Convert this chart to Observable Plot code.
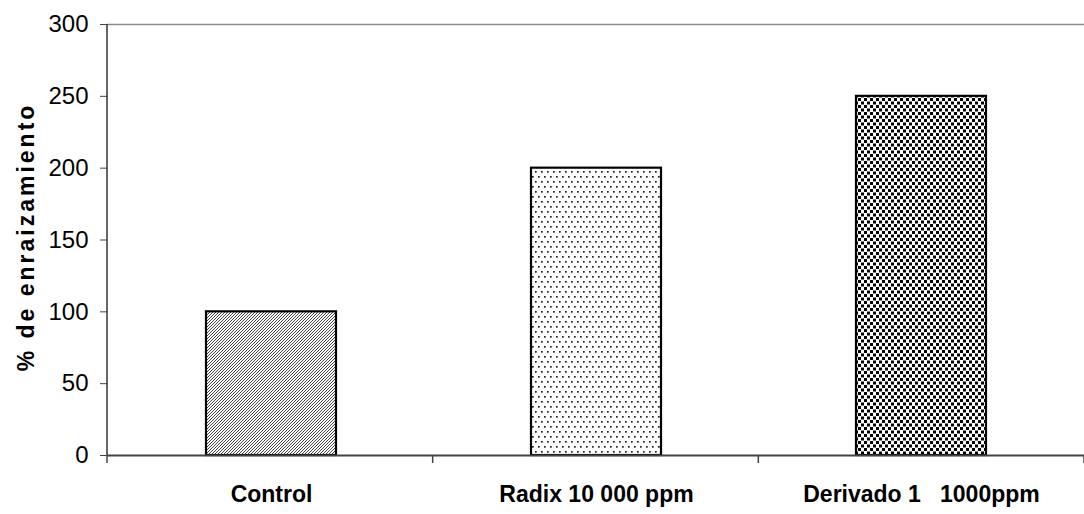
<!DOCTYPE html>
<html>
<head>
<meta charset="utf-8">
<script src="https://cdn.jsdelivr.net/npm/d3@7"></script>
<script src="https://cdn.jsdelivr.net/npm/@observablehq/plot@0.6"></script>
<style>
  html, body { margin: 0; padding: 0; background: #fff; }
  #chart { width: 1084px; height: 514px; }
</style>
</head>
<body>
<div id="chart"></div>
<script>
const categories = ["Control", "Radix 10 000 ppm", "Derivado 1   1000ppm"];
const values = [100, 200, 250];
const patterns = ["hatch", "dotsSparse", "dotsDense"];
const yTicks = [0, 50, 100, 150, 200, 250, 300];
const yLabel = "% de enraizamiento";

const data = categories.map((c, i) => ({cat: c, value: values[i], fill: `url(#${patterns[i]})`}));

// band-boundary ticks and left axis line, derived from the scales
function axisLines(index, scales, values, dims) {
  const g = d3.create("svg:g");
  const x = scales.x;
  const n = x.domain().length;
  const [r0, r1] = x.range();
  const step = (r1 - r0) / n;
  const pos = d3.range(n + 1).map(i => r0 + i * step);
  const y0 = scales.y(0);
  const yTop = scales.y(300);
  g.selectAll("line.t").data(pos).join("line")
    .attr("x1", d => d).attr("x2", d => d)
    .attr("y1", y0).attr("y2", y0 + 8)
    .attr("stroke", "#444").attr("stroke-width", 1.5);
  g.append("line")
    .attr("x1", r0).attr("x2", r0)
    .attr("y1", yTop).attr("y2", y0)
    .attr("stroke", "#333").attr("stroke-width", 1.5);
  return g.node();
}

const plot = Plot.plot({
  width: 1084,
  height: 514,
  marginLeft: 107,
  marginRight: 0,
  marginTop: 24,
  marginBottom: 59,
  style: {fontFamily: "'Liberation Sans', Arial, sans-serif", fontSize: "24px", background: "#fff", color: "#000"},
  x: {domain: categories, paddingInner: 0.6, paddingOuter: 0.3, align: 0.5, label: null},
  y: {domain: [0, 300], label: null},
  color: {type: "identity"},
  marks: [
    Plot.barY(data, {x: "cat", y: "value", fill: "fill", stroke: "#000", strokeWidth: 2.2}),
    Plot.ruleY([300], {stroke: "#8a8a8a", strokeWidth: 1.5}),
    Plot.ruleY([0], {stroke: "#444", strokeWidth: 2}),
    Plot.axisY({ticks: yTicks, tickSize: 7, tickPadding: 12, label: null, stroke: "#444", tickFormat: d => String(d)}),
    Plot.axisX({tickSize: 0, tickPadding: 30, label: null}),
    axisLines
  ]
});

const svg = d3.select(plot);
// x labels bold
svg.selectAll('[aria-label="x-axis tick label"] text, [aria-label="x-axis tick label"]')
  .attr("font-weight", "bold").attr("font-size", 23);
svg.selectAll('[aria-label="y-axis tick label"]').attr("font-size", 24);

// pattern definitions
const defs = svg.insert("defs", ":first-child");
const h = defs.append("pattern").attr("id", "hatch").attr("patternUnits", "userSpaceOnUse")
  .attr("width", 3).attr("height", 3);
h.append("rect").attr("width", 3).attr("height", 3).attr("fill", "#fff");
h.append("path").attr("d", "M-1,1 L1,-1 M0,3 L3,0 M2,4 L4,2").attr("stroke", "#3a3a3a").attr("stroke-width", 0.95);

const s = defs.append("pattern").attr("id", "dotsSparse").attr("patternUnits", "userSpaceOnUse")
  .attr("width", 6).attr("height", 10);
s.append("rect").attr("width", 6).attr("height", 10).attr("fill", "#fff");
s.append("rect").attr("x", 1).attr("y", 1).attr("width", 1.7).attr("height", 1.7).attr("fill", "#222");
s.append("rect").attr("x", 4).attr("y", 6).attr("width", 1.7).attr("height", 1.7).attr("fill", "#222");

const dd = defs.append("pattern").attr("id", "dotsDense").attr("patternUnits", "userSpaceOnUse")
  .attr("width", 6).attr("height", 7);
dd.append("rect").attr("width", 6).attr("height", 7).attr("fill", "#fff");
dd.append("rect").attr("x", 0).attr("y", 0).attr("width", 3).attr("height", 3).attr("fill", "#000");
dd.append("rect").attr("x", 3).attr("y", 3.5).attr("width", 3).attr("height", 3).attr("fill", "#000");

// rotated y label
svg.append("text")
  .attr("transform", "translate(28,237) rotate(-90)")
  .attr("text-anchor", "middle")
  .attr("dominant-baseline", "middle")
  .attr("font-size", 23)
  .attr("font-weight", "bold")
  .attr("letter-spacing", "3px")
  .attr("font-family", "'Liberation Sans', Arial, sans-serif")
  .text(yLabel);

document.getElementById("chart").appendChild(plot);
</script>
</body>
</html>
